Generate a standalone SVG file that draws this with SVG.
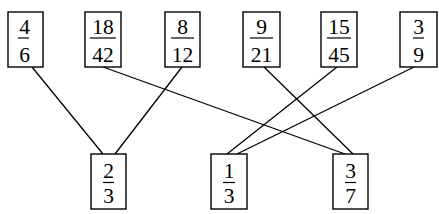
<svg xmlns="http://www.w3.org/2000/svg" width="439" height="214" viewBox="0 0 439 214">
<style>
.box{fill:#fff;stroke:#000;stroke-width:1.4}
.bar{stroke:#000;stroke-width:1.2}
.t{font-family:"Liberation Serif","Times New Roman",serif;font-size:21.5px;text-anchor:middle;fill:#000}
.ln{stroke:#000;stroke-width:1.3;fill:none}
</style>
<g id="connectors">
<line class="ln" x1="32" y1="67" x2="103" y2="154"/>
<line class="ln" x1="182" y1="67" x2="115" y2="154"/>
<line class="ln" x1="103" y1="67" x2="345" y2="154"/>
<line class="ln" x1="264" y1="67" x2="353" y2="154"/>
<line class="ln" x1="337" y1="67" x2="227" y2="154"/>
<line class="ln" x1="414" y1="67" x2="237" y2="154"/>
</g>
<g id="n1"><rect class="box" x="8" y="12" width="35" height="55"/><text class="t" x="24.5" y="34">4</text><line class="bar" x1="18" y1="38" x2="29" y2="38"/><text class="t" x="24.5" y="62">6</text></g>
<g id="n2"><rect class="box" x="85" y="12" width="36" height="55"/><text class="t" x="103" y="34">18</text><line class="bar" x1="90" y1="38" x2="116" y2="38"/><text class="t" x="103" y="62">42</text></g>
<g id="n3"><rect class="box" x="165" y="12" width="35" height="55"/><text class="t" x="182.5" y="34">8</text><line class="bar" x1="171" y1="38" x2="194" y2="38"/><text class="t" x="182.5" y="62">12</text></g>
<g id="n4"><rect class="box" x="243" y="12" width="37" height="55"/><text class="t" x="261.5" y="34">9</text><line class="bar" x1="250" y1="38" x2="273" y2="38"/><text class="t" x="261.5" y="62">21</text></g>
<g id="n5"><rect class="box" x="321" y="12" width="36" height="55"/><text class="t" x="339" y="34">15</text><line class="bar" x1="327" y1="38" x2="351" y2="38"/><text class="t" x="339" y="62">45</text></g>
<g id="n6"><rect class="box" x="400" y="12" width="37" height="55"/><text class="t" x="418.5" y="34">3</text><line class="bar" x1="413" y1="38" x2="424" y2="38"/><text class="t" x="418.5" y="62">9</text></g>
<g id="b1"><rect class="box" x="91" y="154" width="35" height="55"/><text class="t" x="108.5" y="178">2</text><line class="bar" x1="103" y1="182.5" x2="114" y2="182.5"/><text class="t" x="108.5" y="203">3</text></g>
<g id="b2"><rect class="box" x="211" y="154" width="36" height="55"/><text class="t" x="229" y="178">1</text><line class="bar" x1="223" y1="182.5" x2="235" y2="182.5"/><text class="t" x="229" y="203">3</text></g>
<g id="b3"><rect class="box" x="333" y="154" width="35" height="55"/><text class="t" x="350.5" y="178">3</text><line class="bar" x1="345" y1="182.5" x2="356" y2="182.5"/><text class="t" x="350.5" y="203">7</text></g>
</svg>
